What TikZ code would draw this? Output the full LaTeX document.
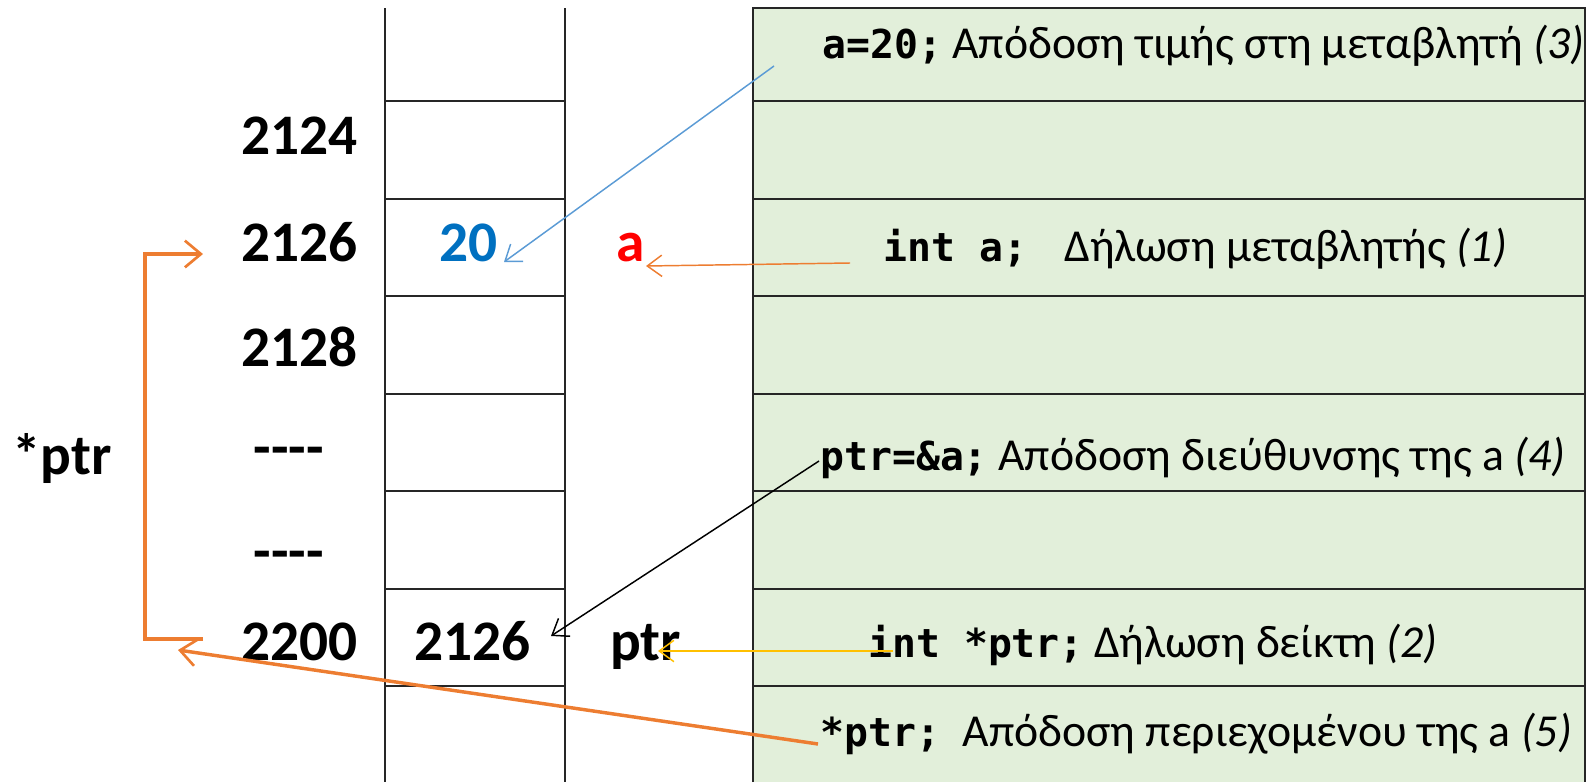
\documentclass[tikz,border=0pt]{standalone}
\usepackage{fontspec}
\setmainfont{Carlito}
\newfontfamily\codefont{DejaVu Sans Mono}[Scale=0.87]
\usetikzlibrary{arrows.meta}
\definecolor{gfill}{HTML}{E2EFDA}
\definecolor{gline}{HTML}{262626}
\definecolor{vblue}{HTML}{0070C0}
\definecolor{ablue}{HTML}{5B9BD5}
\definecolor{aorange}{HTML}{ED7D31}
\definecolor{ayellow}{HTML}{FFC000}
\tikzset{
  big/.style={inner sep=0pt, font=\fontsize{43}{50}\selectfont\bfseries},
  desc/.style={inner sep=0pt, anchor=base west, font=\fontsize{34.3}{40}\selectfont},
  grid/.style={draw=gline, line width=1.6pt},
  thin arrow/.style={line width=1.1pt, -{Straight Barb[length=11pt,width=16pt]}},
  thick arrow/.style={line width=2.6pt, -{Straight Barb[length=12pt,width=20pt,line width=2pt]}},
}
\begin{document}
\begin{tikzpicture}[x=0.75pt,y=-0.75pt]
\useasboundingbox (0,0) rectangle (1591,782);
% green box
\fill[gfill] (753,8) rectangle (1585,782);
\draw[grid] (753,782) -- (753,8) -- (1585,8) -- (1585,782);
\foreach \yy in {101,199,296,394,491,589,686}{
  \draw[grid] (753,\yy) -- (1585,\yy);
  \draw[grid] (385,\yy) -- (565,\yy);
}
\draw[grid] (385,8) -- (385,782);
\draw[grid] (565,8) -- (565,782);
% addresses
\node[big, anchor=base east] (n2124) at (358,154) {2124};
\node[big, anchor=base east] (n2126) at (358,261) {2126};
\node[big, anchor=base east] (n2128) at (358,366) {2128};
\node[big] (d1) at (289,457) {{-}{-}{-}{-}};
\node[big] (d2) at (289,561) {{-}{-}{-}{-}};
\node[big, anchor=base east] (n2200) at (358,660) {2200};
\node[big, anchor=base west] (sptr) at (12,474) {*ptr};
% memory contents
\node[big, anchor=base west, text=vblue] (v20) at (439,261) {20};
\node[big, anchor=base west, text=red] (va) at (616,261) {a};
\node[big, anchor=base west] (v2126) at (414,660) {2126};
\node[big, anchor=base west] (vptr) at (610,660) {ptr};
% descriptions
\node[desc] (r3) at (822,58) {{\codefont\bfseries a=20;} Απόδοση τιμής στη μεταβλητή \textit{(3)}};
\node[desc] (r1) at (883,261) {{\codefont\bfseries int a;}\hspace{28pt}Δήλωση μεταβλητής \textit{(1)}};
\node[desc] (r4) at (820,470) {{\codefont\bfseries ptr=\&a;} Απόδοση διεύθυνσης της a \textit{(4)}};
\node[desc] (r2) at (868,657) {{\codefont\bfseries int *ptr;} Δήλωση δείκτη \textit{(2)}};
\node[desc] (r5) at (820,746) {{\codefont\bfseries *ptr;}\hspace{17pt}Απόδοση περιεχομένου της a \textit{(5)}};
% arrow endpoints
\coordinate (b1) at (774,66);
\coordinate (b2) at (504,262);
\coordinate (o1) at (850,263);
\coordinate (o2) at (646,266);
\coordinate (k1) at (819,461);
\coordinate (k2) at (551,636);
\coordinate (y1) at (893,651);
\coordinate (y2) at (658,651);
\coordinate (t1) at (818,744);
\coordinate (t2) at (178,650);
\coordinate (c1) at (203,639);
\coordinate (c2) at (145,639);
\coordinate (c3) at (145,254);
\coordinate (c4) at (203,254);
% arrows
\draw[thin arrow, ablue] (b1) -- (b2);
\draw[thin arrow, aorange] (o1) -- (o2);
\draw[thin arrow, black] (k1) -- (k2);
\draw[thin arrow, ayellow] (y1) -- (y2);
\draw[thick arrow, aorange] (t1) -- (t2);
\draw[thick arrow, aorange, line join=miter] (c1) -- (c2) -- (c3) -- (c4);
\end{tikzpicture}
\end{document}
